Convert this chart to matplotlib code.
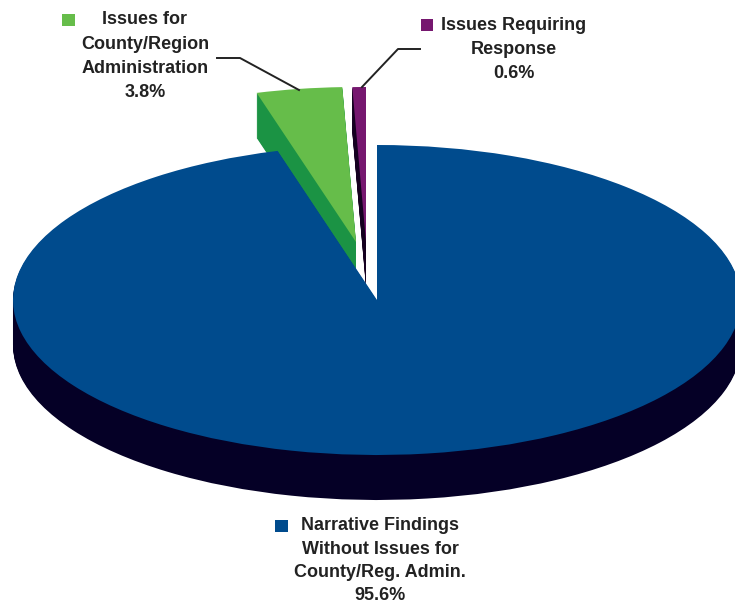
import matplotlib
matplotlib.use("Agg")
import matplotlib.pyplot as plt
from matplotlib.patches import Rectangle

labels = ["Narrative Findings\nWithout Issues for\nCounty/Reg. Admin.",
          "Issues for\nCounty/Region\nAdministration",
          "Issues Requiring\nResponse"]
shares = [95.6, 3.8, 0.6]
pct_labels = ["95.6%", "3.8%", "0.6%"]

top_colors = ["#004B8D", "#66BD4A", "#76176F"]
side_colors = ["#050026", "#1B9344", "#150020"]

# pie geometry in pixels
W, H = 735, 603
cx, cy = 377, 300
rx, ry = 364, 155
depth = 45
# slices are pulled out by hand (px)
offsets = [(0, 0), (-21, -58), (-11, -58)]

plt.rcParams["font.family"] = ["Liberation Sans", "DejaVu Sans"]
fig = plt.figure(figsize=(W / 100, H / 100), dpi=100)
ax = fig.add_axes([0, 0, 1, 1])


def draw_slice(i, z):
    # stack of copies going down makes the side wall
    for d in range(depth, -1, -1):
        color = top_colors[i] if d == 0 else side_colors[i]
        wedges, _ = ax.pie(shares, startangle=90, counterclock=False, radius=1)
        for j, w in enumerate(wedges):
            if j != i:
                w.remove()
                continue
            w.set_center((offsets[i][0] / rx, (-offsets[i][1] - d) / ry))
            w.set_facecolor(color)
            w.set_edgecolor("none")
            w.set_zorder(z + (depth - d) * 0.001)


draw_slice(1, 1)
draw_slice(2, 2)
draw_slice(0, 3)

ax.set_aspect("auto")
ax.set_box_aspect(None)
ax.set_xlim(-cx / rx, (W - cx) / rx)
ax.set_ylim((cy - H) / ry, cy / ry)
ax.axis("off")

# overlay in pixel coordinates for text and leader lines
ov = fig.add_axes([0, 0, 1, 1], facecolor="none")
ov.set_xlim(0, W)
ov.set_ylim(H, 0)
ov.axis("off")

text_color = "#222222"
font = dict(ha="center", va="center", fontsize=13, fontweight="bold", color=text_color)


def block(x, y, label, pct, step=24.2):
    for k, line in enumerate((label + "\n" + pct).split("\n")):
        ov.text(x, y + k * step, line, **font)


block(380, 526, labels[0], pct_labels[0], step=23.2)
block(145, 20, labels[1], pct_labels[1])
block(514, 25, labels[2], pct_labels[2])

ov.add_patch(Rectangle((275, 520), 13, 12, color=top_colors[0], lw=0))
ov.add_patch(Rectangle((62, 14), 13, 12, color=top_colors[1], lw=0))
ov.add_patch(Rectangle((421, 19), 12, 12, color=top_colors[2], lw=0))

ov.plot([217, 240, 299], [58, 58, 90], color=text_color, lw=1.4)
ov.plot([362, 398, 420], [87, 49, 49], color=text_color, lw=1.4)

fig.savefig("out.png", dpi=100, facecolor="white")
